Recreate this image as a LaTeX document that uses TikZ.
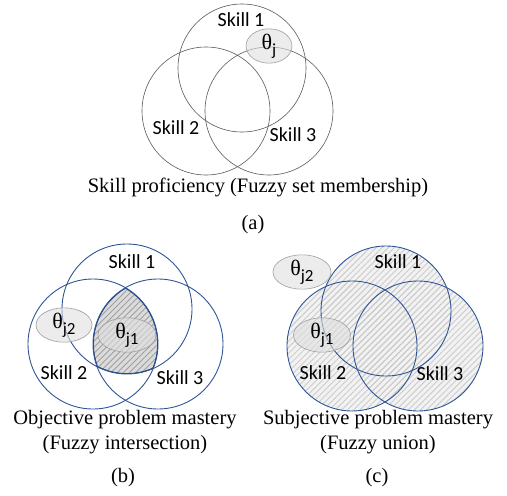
\documentclass[tikz,border=0pt]{standalone}
\usepackage{fontspec}
\setmainfont{Liberation Serif}
\newfontfamily\skfont{Carlito}
\usetikzlibrary{shapes.geometric,patterns.meta}
\definecolor{cblue}{HTML}{2F5597}
\definecolor{cgray}{HTML}{5A5A5A}
\newcommand\thsub[1]{{\fontsize{22}{22}\selectfont θ}\raisebox{-6pt}{\skfont\fontsize{17}{17}\selectfont #1}}
\begin{document}
\begin{tikzpicture}[x=1pt,y=-1pt,
  skill/.style={font=\skfont\fontsize{20}{22}\selectfont, inner sep=0pt},
  capt/.style={font=\fontsize{20.5}{25}\selectfont, inner sep=0pt, align=center},
  theta/.style={ellipse, draw=gray!75, fill=gray!25, fill opacity=0.6, text opacity=1, inner sep=0pt, line width=0.6pt},
  graycirc/.style={draw=cgray, line width=0.6pt},
  bluecirc/.style={draw=cblue, line width=0.9pt},
  darkhatch/.style={pattern={Lines[angle=45,distance=4.3pt,line width=0.9pt]}, pattern color=gray!75},
  lighthatch/.style={pattern={Lines[angle=45,distance=4.3pt,line width=0.9pt]}, pattern color=gray!40}]
\useasboundingbox (0,0) rectangle (507,496);

% ---------- (a) ----------
\coordinate (a1) at (242,68);
\coordinate (a2) at (206,111);
\coordinate (a3) at (269,111);
\draw[graycirc] (a1) circle[radius=64pt];
\draw[graycirc] (a2) circle[radius=64pt];
\draw[graycirc] (a3) circle[radius=64pt];
\node[skill] (as1) at (241,20) {Skill 1};
\node[skill] (as2) at (176,128) {Skill 2};
\node[skill] (as3) at (293,135) {Skill 3};
\node[theta, minimum width=46pt, minimum height=22pt] (atj) at (269,46) {\thsub{j}};
\node[capt] (acap) at (258,187) {Skill proficiency (Fuzzy set membership)};
\node[capt] (alab) at (253,225) {(a)};

% ---------- (b) ----------
\coordinate (b1) at (127,309);
\coordinate (b2) at (93,344);
\coordinate (b3) at (158,344);
\begin{scope}
  \clip (b1) circle[radius=65pt];
  \clip (b2) circle[radius=65pt];
  \clip (b3) circle[radius=65pt];
  \fill[gray!28] (b3) circle[radius=65pt];
  \fill[darkhatch] (b3) circle[radius=65pt];
  \draw[draw=cblue!80!black, line width=1.8pt] (b1) circle[radius=65pt] (b2) circle[radius=65pt] (b3) circle[radius=65pt];
\end{scope}
\draw[bluecirc] (b1) circle[radius=65pt];
\draw[bluecirc] (b2) circle[radius=65pt];
\draw[bluecirc] (b3) circle[radius=65pt];
\node[skill] (bs1) at (132,262) {Skill 1};
\node[skill] (bs2) at (64,373) {Skill 2};
\node[skill] (bs3) at (180,378) {Skill 3};
\node[theta, minimum width=56pt, minimum height=24pt] (btj2) at (64,325) {\thsub{j2}};
\node[theta, minimum width=58pt, minimum height=24pt] (btj1) at (127,335) {\thsub{j1}};
\node[capt] (bcap) at (125,432.5) {Objective problem mastery\\(Fuzzy intersection)};
\node[capt] (blab) at (123,478) {(b)};

% ---------- (c) ----------
\coordinate (c1) at (386,311);
\coordinate (c2) at (352,346);
\coordinate (c3) at (418,346);
\fill[gray!10] (c1) circle[radius=65pt] (c2) circle[radius=65pt] (c3) circle[radius=65pt];
\fill[lighthatch] (c1) circle[radius=65pt];
\fill[lighthatch] (c2) circle[radius=65pt];
\fill[lighthatch] (c3) circle[radius=65pt];
\draw[bluecirc] (c1) circle[radius=65pt];
\draw[bluecirc] (c2) circle[radius=65pt];
\draw[bluecirc] (c3) circle[radius=65pt];
\node[skill] (cs1) at (398,262) {Skill 1};
\node[skill] (cs2) at (323,373) {Skill 2};
\node[skill] (cs3) at (440,374) {Skill 3};
\node[theta, minimum width=58pt, minimum height=22pt] (ctj2) at (302,272) {\thsub{j2}};
\node[theta, minimum width=57pt, minimum height=23pt] (ctj1) at (322,335) {\thsub{j1}};
\node[capt] (ccap) at (378,432.5) {Subjective problem mastery\\(Fuzzy union)};
\node[capt] (clab) at (377,478) {(c)};
\end{tikzpicture}
\end{document}
